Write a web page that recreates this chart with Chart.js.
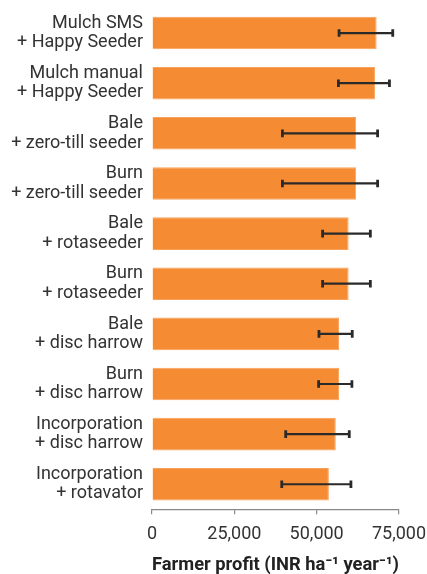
<!DOCTYPE html>
<html>
<head>
<meta charset="utf-8">
<script src="https://cdn.jsdelivr.net/npm/chart.js@4"></script>
<style>
  html, body { margin: 0; padding: 0; background: #fff; }
  #wrap { width: 427px; height: 574px; position: relative; }
</style>
</head>
<body>
<div id="wrap"><canvas id="c"></canvas></div>
<script>
const categories = [
  ["Mulch SMS", "+ Happy Seeder"],
  ["Mulch manual", "+ Happy Seeder"],
  ["Bale", "+ zero-till seeder"],
  ["Burn", "+ zero-till seeder"],
  ["Bale", "+ rotaseeder"],
  ["Burn", "+ rotaseeder"],
  ["Bale", "+ disc harrow"],
  ["Burn", "+ disc harrow"],
  ["Incorporation", "+ disc harrow"],
  ["Incorporation", "+ rotavator"]
];
const profit  = [68200, 67700, 62000, 62000, 59700, 59700, 56800, 56800, 55800, 53700];
const errLow  = [56800, 56600, 39600, 39600, 51800, 51800, 50700, 50600, 40600, 39400];
const errHigh = [73100, 72100, 68500, 68500, 66300, 66300, 60800, 60700, 59900, 60400];
const xTicks  = [0, 25000, 50000, 75000];
const axisTitle = "Farmer profit (INR ha\u207B\u00B9 year\u207B\u00B9)";

const FONT = "Roboto, 'Liberation Sans', sans-serif";
const TEXT = "#333333";

const errorBars = {
  id: 'errorBars',
  afterDatasetsDraw(chart) {
    const ctx = chart.ctx;
    const xs = chart.scales.x, ys = chart.scales.y;
    ctx.save();
    ctx.strokeStyle = '#2a2a2a';
    for (let i = 0; i < profit.length; i++) {
      const y = ys.getPixelForValue(i);
      const x1 = xs.getPixelForValue(errLow[i]);
      const x2 = xs.getPixelForValue(errHigh[i]);
      ctx.lineWidth = 2.2;
      ctx.beginPath();
      ctx.moveTo(x1, y); ctx.lineTo(x2, y);
      ctx.stroke();
      ctx.lineWidth = 2.8;
      ctx.beginPath();
      ctx.moveTo(x1, y - 3.8); ctx.lineTo(x1, y + 3.8);
      ctx.moveTo(x2, y - 3.8); ctx.lineTo(x2, y + 3.8);
      ctx.stroke();
    }
    ctx.restore();
  }
};

new Chart(document.getElementById('c'), {
  type: 'bar',
  data: {
    labels: categories,
    datasets: [{
      data: profit,
      backgroundColor: '#F58B32',
      borderColor: '#F7A25C',
      borderWidth: 1,
      categoryPercentage: 1,
      barPercentage: 0.65
    }]
  },
  options: {
    indexAxis: 'y',
    responsive: true,
    maintainAspectRatio: false,
    animation: false,
    layout: { padding: { top: 8, bottom: 0, left: 0, right: 0 } },
    plugins: { legend: { display: false }, tooltip: { enabled: false } },
    scales: {
      x: {
        min: 0, max: 75000,
        afterBuildTicks(scale) { scale.ticks = xTicks.map(v => ({ value: v })); },
        afterFit(scale) { scale.height -= 5; scale.paddingRight = 28; scale.paddingLeft = 0; },
        grid: { drawOnChartArea: false, drawTicks: true, tickLength: 5, color: '#888', lineWidth: 1.2 },
        border: { display: true, color: '#888', width: 1.2 },
        ticks: {
          color: TEXT,
          font: { family: FONT, size: 18 },
          padding: 9,
          maxRotation: 0,
          callback: (v) => Number(v).toLocaleString('en-US')
        },
        title: {
          display: true,
          text: axisTitle,
          color: '#222',
          font: { family: FONT, size: 19, weight: 'bold', lineHeight: 0.9 },
          padding: { top: 8, bottom: 0 }
        }
      },
      y: {
        afterFit(scale) { scale.width = 152; scale.paddingTop = 0; scale.paddingBottom = 0; },
        grid: { display: false, drawTicks: false },
        border: { display: false },
        ticks: {
          color: TEXT,
          font: { family: FONT, size: 18, lineHeight: 1.08 },
          padding: 9
        }
      }
    }
  },
  plugins: [errorBars]
});
</script>
</body>
</html>
